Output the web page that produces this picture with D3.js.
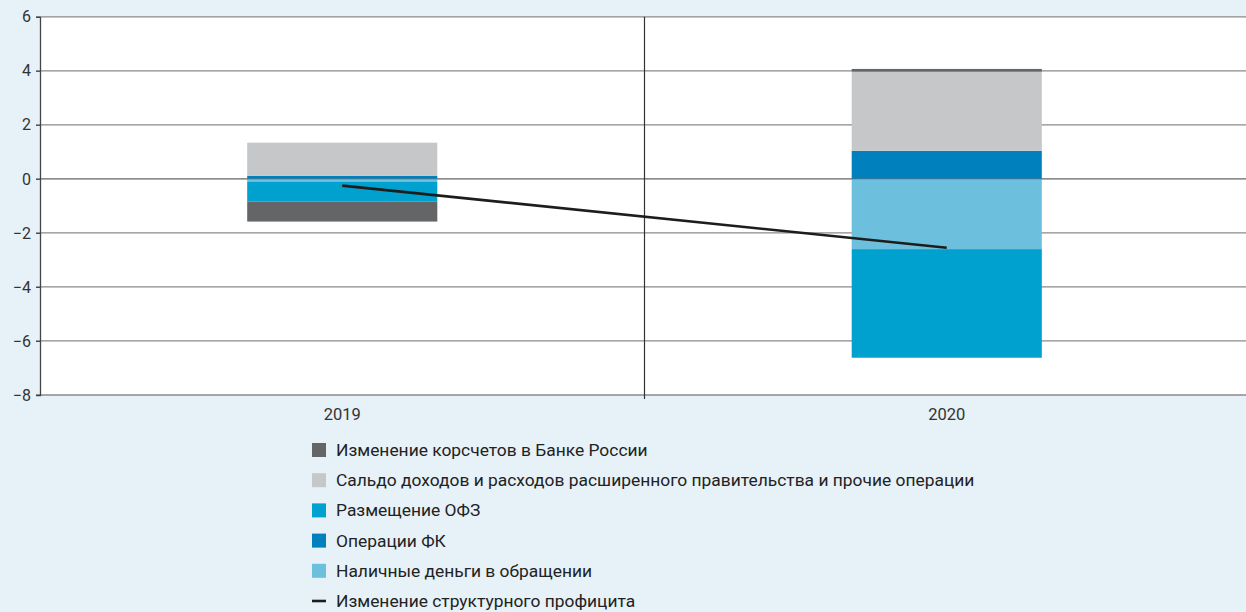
<!DOCTYPE html>
<html><head><meta charset="utf-8">
<script src="https://cdn.jsdelivr.net/npm/d3@7"></script>
<style>
html,body{margin:0;padding:0;background:#e6f1f8;}
svg{display:block;font-family:Roboto,"Noto Sans",sans-serif;}
</style></head>
<body>
<svg id="c" width="1246" height="612"></svg>
<script>
const categories = ["2019", "2020"];
const korschet = [-0.74, 0.10];
const saldo = [1.23, 2.93];
const ofz = [-0.74, -4.02];
const fk = [0.11, 1.04];
const cash = [-0.10, -2.60];
const structSurplus = [-0.25, -2.55];
const yTicks = [-8, -6, -4, -2, 0, 2, 4, 6];

const seriesNames = {
  korschet: "Изменение корсчетов в Банке России",
  saldo: "Сальдо доходов и расходов расширенного правительства и прочие операции",
  ofz: "Размещение ОФЗ",
  fk: "Операции ФК",
  cash: "Наличные деньги в обращении",
  line: "Изменение структурного профицита"
};
const colors = {korschet:"#646567", saldo:"#c6c7c9", ofz:"#00a0cf", fk:"#0080bc", cash:"#6cbfdd"};

const svg = d3.select("#c");
const pLeft = 40, pRight = 1249, pTop = 16.8, pBottom = 395;

const x = d3.scaleBand().domain(categories).range([pLeft, pRight]).padding(0);
const y = d3.scaleLinear().domain([-8, 6]).range([pBottom, pTop]);

// plot background
svg.append("rect").attr("x", pLeft).attr("y", pTop).attr("width", 1246 - pLeft).attr("height", pBottom - pTop).attr("fill", "#fff");

// gridlines
svg.append("g").selectAll("line").data(yTicks).join("line")
  .attr("x1", pLeft - 4).attr("x2", 1246)
  .attr("y1", d => y(d)).attr("y2", d => y(d))
  .attr("stroke", "#8a8a8a").attr("stroke-width", 1.3);

// data table
const table = categories.map((c, i) => ({cat: c, korschet: korschet[i], saldo: saldo[i], ofz: ofz[i], fk: fk[i], cash: cash[i]}));
const keys = ["fk", "cash", "ofz", "saldo", "korschet"];
const stack = d3.stack().keys(keys).offset(d3.stackOffsetDiverging);
const stacked = stack(table);

const barW = x.bandwidth() * 0.3145;
svg.append("g").selectAll("g").data(stacked).join("g")
  .attr("fill", d => colors[d.key])
  .selectAll("rect").data(d => d).join("rect")
  .attr("x", d => x(d.data.cat) + x.bandwidth() / 2 - barW / 2)
  .attr("width", barW)
  .attr("y", d => y(Math.max(d[0], d[1])))
  .attr("height", d => Math.abs(y(d[0]) - y(d[1])));

// zero line over bars (faint)
svg.append("line").attr("x1", pLeft).attr("x2", 1246).attr("y1", y(0)).attr("y2", y(0))
  .attr("stroke", "#555").attr("stroke-opacity", 0.5).attr("stroke-width", 1);

// y axis
const yAxis = d3.axisLeft(y).tickValues(yTicks).tickSize(4).tickFormat(d => d < 0 ? "−" + Math.abs(d) : d);
const ga = svg.append("g").attr("transform", `translate(${pLeft},0)`).call(yAxis);
ga.select(".domain").attr("stroke", "#444").attr("stroke-width", 1.3);
ga.selectAll(".tick line").attr("stroke", "#444");
ga.selectAll(".tick text").attr("font-size", 16).attr("fill", "#333").attr("x", -9).attr("font-family", "Roboto");

// category separator
svg.append("line").attr("x1", x("2020")).attr("x2", x("2020")).attr("y1", pTop).attr("y2", pBottom + 4)
  .attr("stroke", "#333").attr("stroke-width", 1.2);

// x labels
const xAxis = d3.axisBottom(x).tickSize(0).tickPadding(0);
const gx = svg.append("g").attr("transform", `translate(0,${pBottom})`).call(xAxis);
gx.select(".domain").remove();
gx.selectAll(".tick text").attr("font-size", 16.5).attr("fill", "#333").attr("dy", 0).attr("y", 25).attr("font-family", "Roboto");

// line
const lineGen = d3.line().x((d, i) => x(categories[i]) + x.bandwidth() / 2).y(d => y(d));
svg.append("path").datum(structSurplus).attr("d", lineGen)
  .attr("fill", "none").attr("stroke", "#1d1d1b").attr("stroke-width", 2.6);

// legend
const legendItems = ["korschet", "saldo", "ofz", "fk", "cash", "line"];
const lg = svg.append("g").attr("transform", "translate(312,0)");
legendItems.forEach((k, i) => {
  const cy = 450 + i * 30.2;
  if (k === "line") {
    lg.append("line").attr("x1", 0).attr("x2", 14).attr("y1", cy).attr("y2", cy).attr("stroke", "#1d1d1b").attr("stroke-width", 2.6);
  } else {
    lg.append("rect").attr("x", 0).attr("y", cy - 7).attr("width", 14).attr("height", 14).attr("fill", colors[k]);
  }
  lg.append("text").attr("x", 24).attr("y", cy + 6).attr("font-size", 17.4).attr("fill", "#222").text(seriesNames[k]);
});
</script>
</body></html>
